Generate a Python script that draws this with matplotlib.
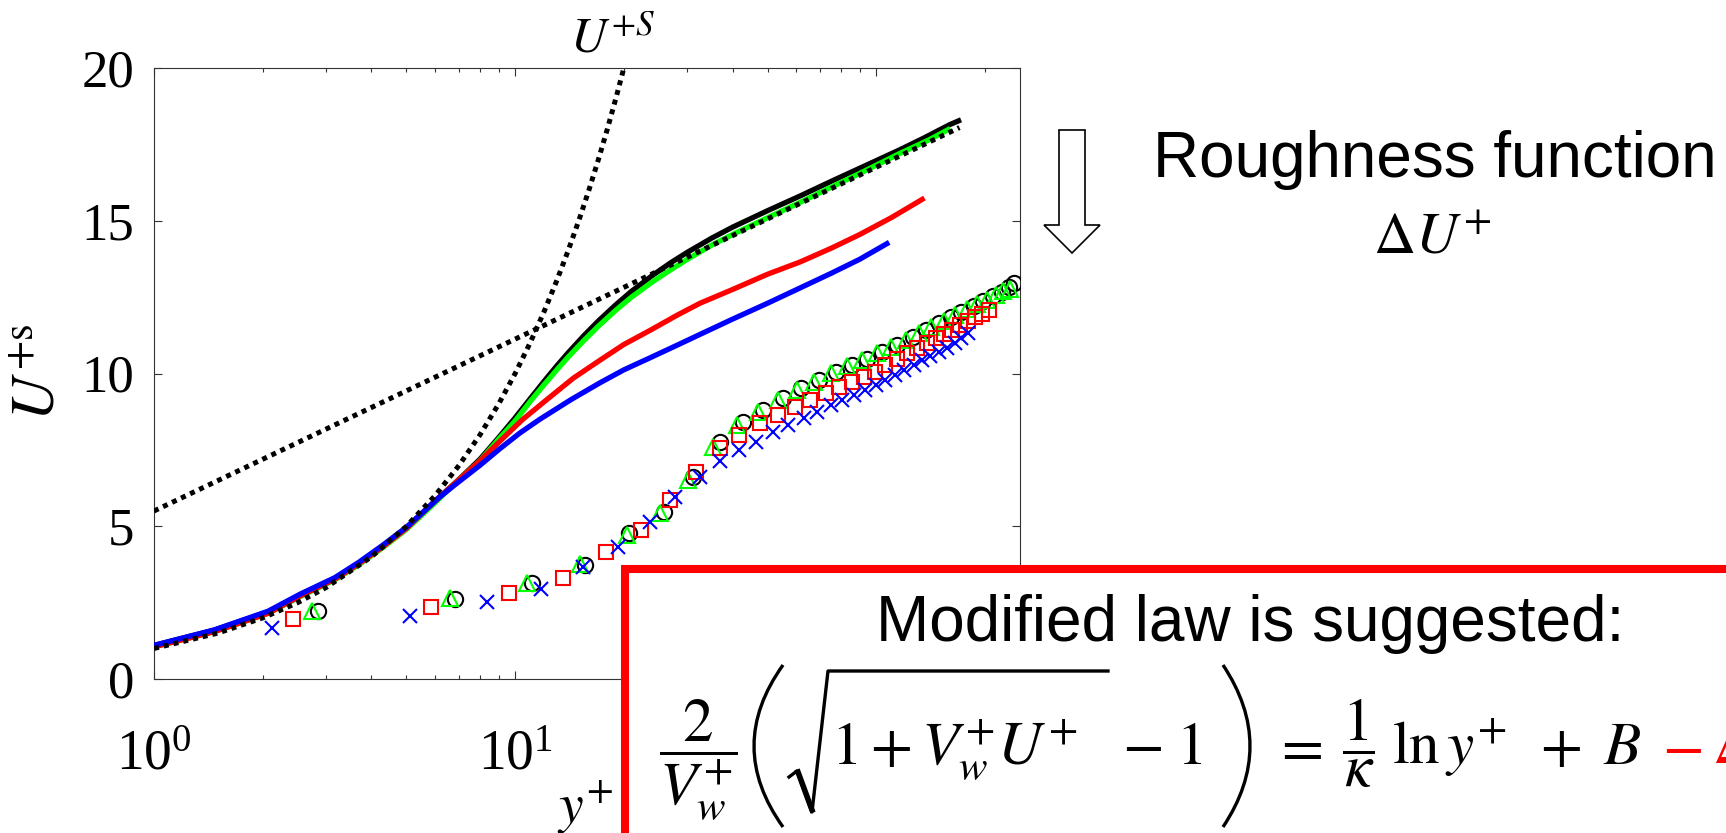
import matplotlib
matplotlib.use('Agg')
import matplotlib.pyplot as plt
from matplotlib.patches import Rectangle, Polygon, PathPatch
from matplotlib.path import Path
from matplotlib.lines import Line2D

plt.rcParams['font.family'] = ['Liberation Serif', 'DejaVu Serif']
plt.rcParams['mathtext.fontset'] = 'stix'

# mean velocity profiles (solid lines)
yp_black = [1.0, 1.47, 2.07, 2.54, 3.17, 3.7, 4.3, 5.0, 5.5, 6.1, 6.8, 8.0, 9.0, 10, 11, 12, 13,
            14, 15.5, 17, 19, 21, 24, 27, 30, 35, 40, 50, 61.5, 75, 90, 116, 135, 150, 160, 169]
U_black = [1.1, 1.6, 2.2, 2.75, 3.3, 3.8, 4.35, 4.95, 5.4, 5.9, 6.4, 7.2, 7.9, 8.55, 9.17, 9.73,
           10.23, 10.67, 11.24, 11.72, 12.25, 12.69, 13.21, 13.63, 13.97, 14.43, 14.79, 15.33,
           15.81, 16.29, 16.72, 17.32, 17.7, 17.98, 18.15, 18.27]

yp_green = [1.0, 1.47, 2.07, 2.54, 3.17, 3.7, 4.3, 5.0, 5.5, 6.1, 6.8, 8.0, 9.0, 10, 11, 12, 13,
            14, 15.5, 17, 19, 21, 24, 27, 30, 35, 40, 50, 61.5, 75, 90, 116, 140, 158]
U_green = [1.05, 1.55, 2.15, 2.7, 3.25, 3.75, 4.3, 4.9, 5.35, 5.85, 6.4, 7.15, 7.85, 8.45, 9.08,
           9.62, 10.1, 10.53, 11.08, 11.55, 12.07, 12.5, 13.0, 13.4, 13.74, 14.2, 14.55, 15.1,
           15.6, 16.1, 16.55, 17.2, 17.65, 17.98]

yp_red = [1.0, 1.47, 2.07, 2.54, 3.17, 3.7, 4.3, 5.0, 5.5, 6.1, 6.8, 8.0, 9.1, 10.5, 12.4, 14.5,
          17.2, 20, 23.7, 28, 32.5, 40, 50, 61.5, 75, 90, 110, 134]
U_red = [1.05, 1.55, 2.15, 2.72, 3.27, 3.78, 4.33, 4.93, 5.4, 5.9, 6.4, 7.15, 7.8, 8.5, 9.2,
         9.85, 10.44, 10.95, 11.42, 11.9, 12.3, 12.75, 13.25, 13.65, 14.1, 14.55, 15.1, 15.7]

yp_blue = [1.0, 1.47, 2.07, 2.54, 3.17, 3.7, 4.3, 5.0, 5.5, 6.1, 6.8, 8.0, 9.1, 10.3, 11.7, 14.3,
           17.2, 20, 23.7, 28, 32.5, 40, 50, 61.5, 75, 90, 107]
U_blue = [1.1, 1.61, 2.22, 2.78, 3.32, 3.83, 4.38, 4.97, 5.41, 5.9, 6.35, 7.0, 7.55, 8.05, 8.5,
          9.15, 9.7, 10.12, 10.52, 10.92, 11.28, 11.78, 12.3, 12.8, 13.28, 13.74, 14.25]

# reference laws (dotted)
yp_visc = [1, 1.5, 2, 2.5, 3, 4, 5, 6, 7, 8, 9, 10, 11, 12, 13, 14, 15, 16, 17, 18, 19, 20, 21]
U_visc = [1, 1.5, 2, 2.5, 3, 4, 5, 6, 7, 8, 9, 10, 11, 12, 13, 14, 15, 16, 17, 18, 19, 20, 21]
yp_log = [1, 170]
U_log = [5.5, 18.05]

# shifted (rough wall) profiles, markers
yp_circ = [2.85, 6.8, 11.1, 15.6, 20.7, 25.9, 31.0, 37.0, 42.8, 48.6, 55.0, 61.8, 69.3, 77.2,
           85.8, 94.4, 104, 114, 126, 137, 149, 161, 172, 186, 198, 211, 223, 233, 240]
U_circ = [2.23, 2.62, 3.14, 3.73, 4.78, 5.47, 6.6, 7.77, 8.42, 8.81, 9.19, 9.52, 9.79, 10.06,
          10.28, 10.49, 10.71, 10.93, 11.2, 11.42, 11.64, 11.84, 12.02, 12.21, 12.38, 12.54,
          12.68, 12.82, 12.95]

yp_tri = [2.74, 6.6, 10.8, 15.1, 20.4, 25.2, 30.1, 35.4, 41.1, 47.1, 53.5, 60.2, 67.1, 74.8,
          82.8, 91.1, 100.3, 110, 121, 131, 142, 154, 165, 178, 190, 203, 214, 225, 234]
U_tri = [2.23, 2.65, 3.14, 3.76, 4.71, 5.43, 6.51, 7.60, 8.31, 8.75, 9.13, 9.46, 9.73, 10.01,
         10.23, 10.44, 10.66, 10.88, 11.10, 11.32, 11.53, 11.73, 11.91, 12.10, 12.27, 12.42,
         12.57, 12.71, 12.78]

yp_sq = [2.43, 5.85, 9.6, 13.6, 17.8, 22.3, 26.9, 31.7, 37.0, 41.8, 47.7, 53.5, 59.6, 65.6,
         72.5, 78.9, 85.8, 92.3, 99.2, 105.9, 114, 122, 130, 138, 146, 154, 162, 171, 180,
         188, 196, 205]
U_sq = [1.96, 2.36, 2.82, 3.31, 4.16, 4.88, 5.86, 6.78, 7.55, 7.99, 8.37, 8.64, 8.91, 9.13,
        9.35, 9.57, 9.73, 9.90, 10.06, 10.28, 10.49, 10.66, 10.82, 10.99, 11.15, 11.29, 11.44,
        11.59, 11.73, 11.86, 11.96, 12.08]

yp_x = [2.12, 5.12, 8.35, 11.8, 15.4, 19.3, 23.7, 27.7, 32.5, 37.0, 41.8, 46.5, 51.9, 57.0,
        62.9, 68.5, 74.8, 80.5, 86.5, 93.0, 99.6, 106, 113, 119, 127, 134, 141, 149, 157,
        165, 172, 180]
U_x = [1.67, 2.06, 2.52, 2.94, 3.67, 4.32, 5.14, 5.96, 6.62, 7.12, 7.50, 7.77, 8.10, 8.31,
       8.53, 8.75, 8.97, 9.13, 9.30, 9.46, 9.62, 9.79, 9.95, 10.11, 10.28, 10.44, 10.57,
       10.71, 10.85, 10.99, 11.15, 11.32]

W, H = 1726, 833
fig = plt.figure(figsize=(W / 100, H / 100), dpi=100)
ax = fig.add_axes([154 / W, 1 - 679 / H, 866 / W, 611 / H])


def fx(px):
    return px / W


def fy(py):
    return 1 - py / H


lw = 3.8
ax.plot(yp_black, U_black, color='#000000', lw=lw, zorder=3)
ax.plot(yp_green, U_green, color='#00ff00', lw=lw, zorder=3)
ax.plot(yp_red, U_red, color='#ff0000', lw=lw, zorder=3)
ax.plot(yp_blue, U_blue, color='#0000ff', lw=lw, zorder=3)

dots = dict(color='k', lw=3.6, linestyle=(0, (1, 1)), dash_capstyle='butt', zorder=5)
ax.plot(yp_visc, U_visc, **dots)
ax.plot(yp_log, U_log, **dots)

mk = dict(ls='none', mfc='none', mew=1.5, zorder=4)
ax.plot(yp_circ, U_circ, marker='o', mec='k', ms=11, **mk)
ax.plot(yp_tri, U_tri, marker='^', mec='#00ff00', ms=11, **mk)
ax.plot(yp_sq, U_sq, marker='s', mec='#ff0000', ms=9.5, **mk)
ax.plot(yp_x, U_x, marker='x', mec='#0000ff', ms=9.5, **mk)

ax.set_xscale('log')
ax.set_xlim(1, 250)
ax.set_ylim(0, 20)
ax.set_yticks([0, 5, 10, 15, 20])
ax.tick_params(which='both', direction='in', top=True, right=True, width=0.8, color='#333333')
ax.tick_params(which='major', length=5.8)
ax.tick_params(axis='y', pad=14, labelsize=38)
ax.tick_params(axis='x', pad=36, labelsize=40)
ax.tick_params(which='minor', length=2.9)
for s in ax.spines.values():
    s.set_linewidth(0.8)
    s.set_color('#333333')

# axis labels
fig.text(fx(40), fy(372), r'$U^{+\mathrm{s}}$', rotation=90, ha='center', va='center',
         fontsize=44)
fig.text(fx(585), fy(823), r'$y^{+}$', ha='center', va='baseline', fontsize=40)
fig.text(fx(613), fy(52), r'$U^{+S}$', ha='center', va='baseline', fontsize=36)

# hollow arrow
arrow_px = [(1059, 130), (1085, 130), (1085, 225), (1100, 225), (1072, 253), (1044, 225),
            (1059, 225)]
fig.add_artist(Polygon([(fx(x), fy(y)) for x, y in arrow_px], closed=True,
                       transform=fig.transFigure, fc='white', ec='k', lw=1.2))

fig.text(fx(1435), fy(177), 'Roughness function', ha='center', va='baseline',
         fontsize=46, family='Liberation Sans')
fig.text(fx(1432), fy(253), r'$\Delta U^{+}$', ha='center', va='baseline', fontsize=42)

# red box with the modified law
box = Rectangle((fx(625), -0.2), 1.0, 0.2 + fy(569), transform=fig.transFigure,
                fc='white', ec='#ff0000', lw=5.8, zorder=5)
fig.add_artist(box)
fig.text(fx(1250), fy(641), 'Modified law is suggested:', ha='center', va='baseline',
         fontsize=46, family='Liberation Sans', zorder=6)

base = fy(764)
eqfs = 44
eq_parts = [
    (698, 'center', r'$\dfrac{2}{V_w^{+}}$', 'k'),
    (831, 'left', r'$1+V_w^{+}U^{+}$', 'k'),
    (1122, 'left', r'$-\;1$', 'k'),
    (1298, 'center', r'$=$', 'k'),
    (1358, 'center', r'$\dfrac{1}{\kappa}$', 'k'),
    (1392, 'left', r'$\ln y^{+}$', 'k'),
    (1560, 'center', r'$+$', 'k'),
    (1622, 'center', r'$B$', 'k'),
    (1682, 'center', r'$-$', '#ff0000'),
    (1712, 'left', r'$\Delta U^{+}$', '#ff0000'),
]
for x, ha, s, c in eq_parts:
    fig.text(fx(x), base, s, ha=ha, va='baseline', fontsize=eqfs, color=c, zorder=6)

# tall parentheses and radical sign
for p0, p1, p2 in [((783, 665), (725, 746), (783, 827)), ((1223, 665), (1277, 746), (1223, 827))]:
    path = Path([(fx(p0[0]), fy(p0[1])), (fx(p1[0]), fy(p1[1])), (fx(p2[0]), fy(p2[1]))],
                [Path.MOVETO, Path.CURVE3, Path.CURVE3])
    fig.add_artist(PathPatch(path, transform=fig.transFigure, fc='none', ec='k', lw=2.4,
                             zorder=6))
rad = [(789, 777), (797, 771), (812, 812), (828, 671), (1108, 671)]
fig.add_artist(Line2D([fx(x) for x, y in rad], [fy(y) for x, y in rad],
                      transform=fig.transFigure, color='k', lw=2.4, zorder=6))
fig.add_artist(Line2D([fx(798), fx(812)], [fy(772), fy(810)], transform=fig.transFigure,
                      color='k', lw=4, zorder=6))

fig.savefig('out.png', dpi=100)
